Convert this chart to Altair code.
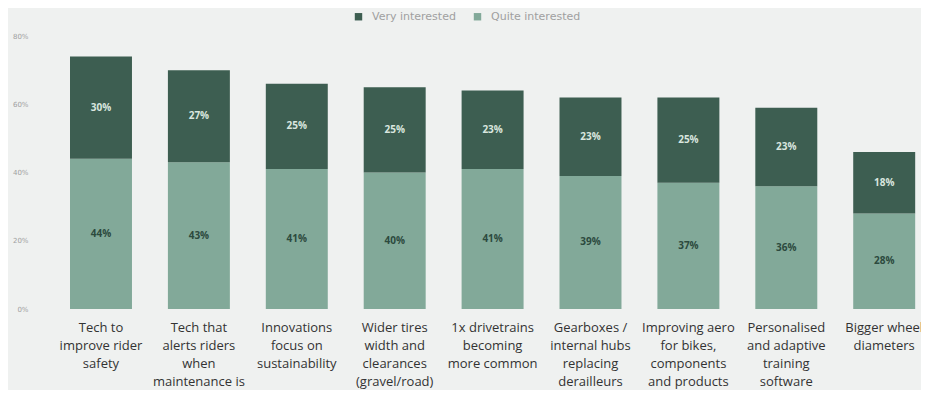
import altair as alt
import pandas as pd

categories = [
    "Tech to\nimprove rider\nsafety",
    "Tech that\nalerts riders\nwhen\nmaintenance is\nneeded",
    "Innovations\nfocus on\nsustainability",
    "Wider tires\nwidth and\nclearances\n(gravel/road)",
    "1x drivetrains\nbecoming\nmore common",
    "Gearboxes /\ninternal hubs\nreplacing\nderailleurs",
    "Improving aero\nfor bikes,\ncomponents\nand products",
    "Personalised\nand adaptive\ntraining\nsoftware",
    "Bigger wheel\ndiameters",
]
very_interested = [30, 27, 25, 25, 23, 23, 25, 23, 18]
quite_interested = [44, 43, 41, 40, 41, 39, 37, 36, 28]
series_names = ["Very interested", "Quite interested"]
series_colors = ["#3d5e51", "#82a999"]
y_ticks = [0, 20, 40, 60, 80]

rows = []
for c, v, q in zip(categories, very_interested, quite_interested):
    rows.append({"category": c, "series": "Quite interested", "value": q, "order": 0})
    rows.append({"category": c, "series": "Very interested", "value": v, "order": 1})
df = pd.DataFrame(rows)

base = alt.Chart(df).transform_stack(
    stack="value",
    groupby=["category"],
    as_=["y0", "y1"],
    sort=[alt.SortField("order", order="ascending")],
).transform_calculate(
    mid="(datum.y0 + datum.y1) / 2",
    label="datum.value + '%'",
)

x_enc = alt.X(
    "category:N",
    sort=categories,
    title=None,
    scale=alt.Scale(paddingInner=0.367, paddingOuter=0.1216, align=0.756),
    axis=alt.Axis(
        labelAngle=0,
        labelExpr="split(datum.label, '\\n')",
        labelFont="Open Sans",
        labelFontSize=13,
        labelColor="#333333",
        labelLineHeight=18,
        labelPadding=12,
        labelBaseline="top",
        ticks=False,
        domain=False,
        grid=False,
        labelLimit=200,
        labelBound=False,
        labelOverlap=False,
    ),
)

bars = base.mark_bar().encode(
    x=x_enc,
    y=alt.Y(
        "y0:Q",
        title=None,
        scale=alt.Scale(domain=[0, 80], nice=False),
        axis=alt.Axis(
            values=y_ticks,
            labelExpr="datum.value + '%'",
            labelFont="DejaVu Sans",
            labelFontSize=7,
            labelColor="#a0a0a0",
            labelPadding=24,
            ticks=False,
            domain=False,
            grid=False,
        ),
    ),
    y2="y1:Q",
    color=alt.Color(
        "series:N",
        scale=alt.Scale(domain=series_names, range=series_colors),
        legend=alt.Legend(
            title=None,
            orient="none",
            direction="horizontal",
            legendX=301,
            legendY=-25,
            symbolType="square",
            symbolSize=55,
            symbolStrokeWidth=0,
            labelFont="DejaVu Sans",
            labelFontSize=11,
            labelColor="#a0a0a0",
            columnPadding=16,
            labelOffset=8,
        ),
    ),
)

text = base.mark_text(font="Open Sans", fontSize=10, fontWeight="bold").encode(
    x=alt.X("category:N", sort=categories),
    y=alt.Y("mid:Q"),
    text="label:N",
    color=alt.condition(
        alt.datum.series == "Very interested",
        alt.value("#d9e6df"),
        alt.value("#2c4a3e"),
    ),
)

chart = alt.layer(bars, text).properties(
    width=869,
    height=273,
    autosize="none",
    padding={"left": 44, "top": 28, "right": 0, "bottom": 81},
    background="#eff1f0",
).configure_view(stroke=None)

chart.save("out.html", embed_options={"renderer": "svg", "actions": False})
